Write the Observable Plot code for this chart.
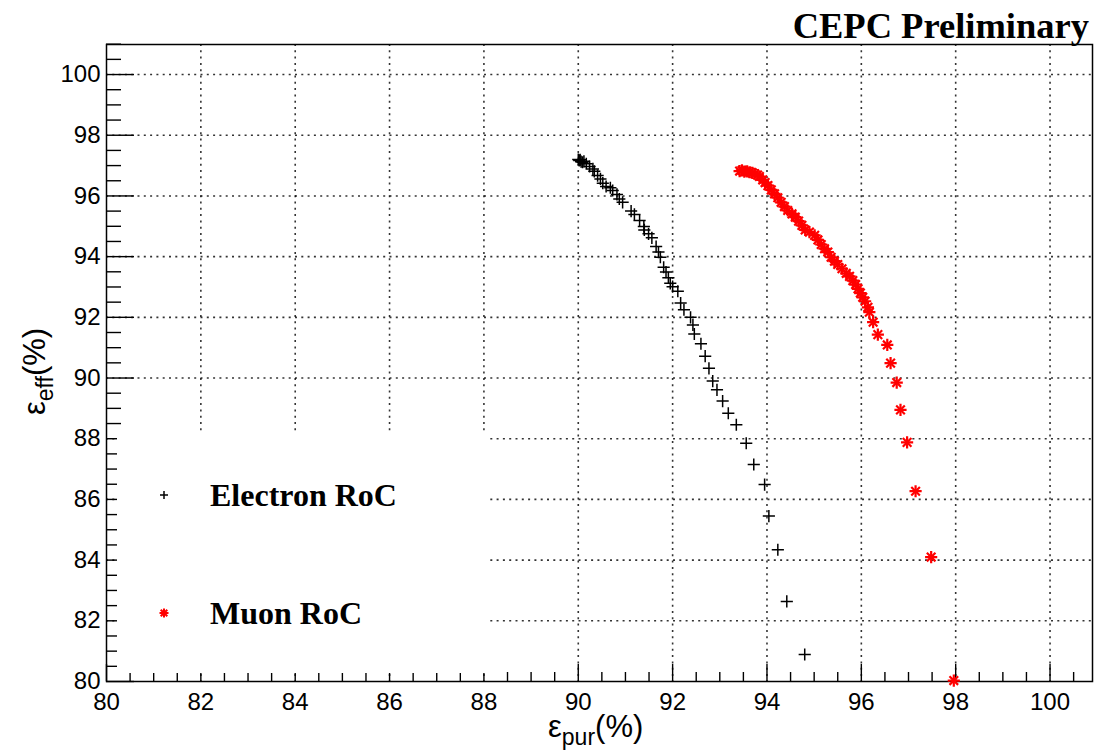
<!DOCTYPE html>
<html><head><meta charset="utf-8">
<script src="https://cdn.jsdelivr.net/npm/d3@7"></script>
<script src="https://cdn.jsdelivr.net/npm/@observablehq/plot@0.6"></script>
<style>body{margin:0;background:#fff} svg{display:block}</style>
</head><body><div id="chart"></div>
<script>
// Electron RoC: purity (%) and efficiency (%)
const electronPur = [90.00,90.02,90.04,90.06,90.09,90.12,90.17,90.24,90.31,90.34,90.41,90.47,90.52,90.59,90.68,90.73,90.82,90.87,90.94,91.12,91.19,91.30,91.39,91.40,91.49,91.56,91.65,91.70,91.74,91.81,91.86,91.91,91.95,92.00,92.11,92.17,92.24,92.38,92.43,92.46,92.60,92.69,92.77,92.85,92.94,93.06,93.18,93.35,93.56,93.72,93.95,94.04,94.23,94.42,94.80];
const electronEff = [97.20,97.17,97.19,97.13,97.11,97.14,97.06,96.97,96.89,96.81,96.67,96.56,96.42,96.31,96.27,96.18,96.05,95.90,95.79,95.50,95.39,95.19,94.99,94.88,94.75,94.62,94.33,94.15,93.98,93.65,93.49,93.30,93.12,93.01,92.86,92.47,92.25,92.00,91.75,91.45,91.13,90.72,90.32,89.90,89.61,89.24,88.84,88.46,87.85,87.15,86.49,85.45,84.34,82.64,80.89];
// Muon RoC
const muonPur = [93.42,93.47,93.52,93.58,93.63,93.69,93.74,93.80,93.84,93.91,93.96,94.02,94.09,94.16,94.23,94.30,94.37,94.44,94.53,94.60,94.67,94.74,94.81,94.90,95.01,95.08,95.15,95.22,95.29,95.36,95.43,95.50,95.59,95.68,95.75,95.82,95.88,95.93,95.98,96.03,96.08,96.14,96.17,96.25,96.35,96.55,96.62,96.75,96.83,96.97,97.15,97.48,97.96];
const muonEff = [96.82,96.84,96.80,96.81,96.78,96.76,96.73,96.69,96.64,96.53,96.44,96.34,96.20,96.07,95.94,95.79,95.65,95.52,95.41,95.30,95.17,95.03,94.88,94.81,94.70,94.55,94.40,94.26,94.15,93.98,93.85,93.74,93.60,93.45,93.35,93.21,93.08,92.94,92.80,92.66,92.53,92.33,92.17,91.84,91.43,91.09,90.49,89.85,88.95,87.88,86.27,84.10,80.03];

const xMajor = [80,82,84,86,88,90,92,94,96,98,100];
const yMajor = [80,82,84,86,88,90,92,94,96,98,100];
const xMinor = d3.range(80, 101, 0.5).filter(v => v % 2 !== 0);
const yMinor = d3.range(80, 101.01, 0.5).filter(v => v % 2 !== 0);

const titleText = "CEPC Preliminary";
const legendLabels = ["Electron RoC", "Muon RoC"];

const electron = electronPur.map((p, i) => ({pur: p, eff: electronEff[i]}));
const muon = muonPur.map((p, i) => ({pur: p, eff: muonEff[i]}));

const W = 1094, H = 750, mL = 106, mR = 2, mT = 44, mB = 69;
const fw = W - mL - mR, fh = H - mT - mB;
const serif = "'Liberation Serif', 'Times New Roman', serif";
const sans = "'Liberation Sans', Arial, Helvetica, sans-serif";

const legendBox = (index, scales, values, dims) => {
  const g = d3.create("svg:g");
  g.append("rect")
    .attr("x", mL + 11)
    .attr("y", H - mB - 248)
    .attr("width", 369)
    .attr("height", 240)
    .attr("fill", "white");
  return g.node();
};

const textLayer = (index, scales, values, dims) => {
  const g = d3.create("svg:g").attr("text-anchor", "start");
  // title
  g.append("text").attr("x", W - 5).attr("y", 38)
    .attr("text-anchor", "end").attr("font-family", serif).attr("font-weight", "bold")
    .attr("font-size", 36.5).attr("fill", "black").text(titleText);
  // legend
  const lx = mL + 58;
  const ly = [495, 613];
  const e = g.append("g").attr("stroke", "black").attr("stroke-width", 1.5);
  e.append("line").attr("x1", lx - 4).attr("x2", lx + 4).attr("y1", ly[0]).attr("y2", ly[0]);
  e.append("line").attr("x1", lx).attr("x2", lx).attr("y1", ly[0] - 4).attr("y2", ly[0] + 4);
  const m = g.append("g").attr("stroke", "red").attr("stroke-width", 2);
  m.append("line").attr("x1", lx - 4.5).attr("x2", lx + 4.5).attr("y1", ly[1]).attr("y2", ly[1]);
  m.append("line").attr("x1", lx).attr("x2", lx).attr("y1", ly[1] - 4.5).attr("y2", ly[1] + 4.5);
  m.append("line").attr("x1", lx - 3.3).attr("x2", lx + 3.3).attr("y1", ly[1] - 3.3).attr("y2", ly[1] + 3.3);
  m.append("line").attr("x1", lx - 3.3).attr("x2", lx + 3.3).attr("y1", ly[1] + 3.3).attr("y2", ly[1] - 3.3);
  legendLabels.forEach((t, i) => {
    g.append("text").attr("x", lx + 46).attr("y", ly[i] + 11).attr("text-anchor", "start")
      .attr("font-family", serif).attr("font-weight", "bold").attr("font-size", 32)
      .attr("fill", "black").text(t);
  });
  // x axis label
  const xl = g.append("text").attr("x", 548).attr("y", 737).attr("text-anchor", "start")
    .attr("font-family", sans).attr("font-size", 31).attr("fill", "black");
  xl.append("tspan").text("ε");
  xl.append("tspan").attr("font-size", 23).attr("dy", 8).text("pur");
  xl.append("tspan").attr("dy", -8).text("(%)");
  // y axis label
  const yl = g.append("text").attr("transform", "translate(45,415) rotate(-90)").attr("text-anchor", "start")
    .attr("font-family", sans).attr("font-size", 31).attr("fill", "black");
  yl.append("tspan").text("ε");
  yl.append("tspan").attr("font-size", 23).attr("dy", 8).text("eff");
  yl.append("tspan").attr("dy", -8).text("(%)");
  return g.node();
};

const gridStyle = {stroke: "#000", strokeOpacity: 0.8, strokeWidth: 1.6, strokeDasharray: "2,4.3"};

const chart = Plot.plot({
  width: W, height: H,
  marginLeft: mL, marginRight: mR, marginTop: mT, marginBottom: mB,
  x: {domain: [80, 100.9]},
  y: {domain: [80, 100.99]},
  style: {fontFamily: sans, fontSize: "24px", background: "white", color: "black"},
  marks: [
    Plot.gridX(xMajor.filter(v => v > 80), gridStyle),
    Plot.gridY(yMajor.filter(v => v > 80), gridStyle),
    Plot.tickY(yMinor, {y: d => d, insetRight: fw - 15, stroke: "black", strokeWidth: 1.4}),
    Plot.tickY(yMajor, {y: d => d, insetRight: fw - 28, stroke: "black", strokeWidth: 1.4}),
    Plot.tickX(xMinor, {x: d => d, insetTop: fh - 9, stroke: "black", strokeWidth: 1.4}),
    Plot.tickX(xMajor, {x: d => d, insetTop: fh - 17, stroke: "black", strokeWidth: 1.4}),
    legendBox,
    Plot.frame({stroke: "black", strokeWidth: 1.5}),
    Plot.axisX({ticks: xMajor, tickSize: 0, tickPadding: 11, label: null, fontSize: 24, tickFormat: d => String(d)}),
    Plot.axisY({ticks: yMajor, tickSize: 0, tickPadding: 6, label: null, fontSize: 24, tickFormat: d => String(d)}),
    Plot.dot(electron, {x: "pur", y: "eff", symbol: "plus", r: 4, stroke: "black", strokeWidth: 1.5}),
    Plot.dot(muon, {x: "pur", y: "eff", symbol: "plus", r: 4, stroke: "red", strokeWidth: 2.2}),
    Plot.dot(muon, {x: "pur", y: "eff", symbol: "times", r: 4, stroke: "red", strokeWidth: 2.2}),
    textLayer
  ]
});
document.getElementById("chart").appendChild(chart);
</script>
</body></html>
